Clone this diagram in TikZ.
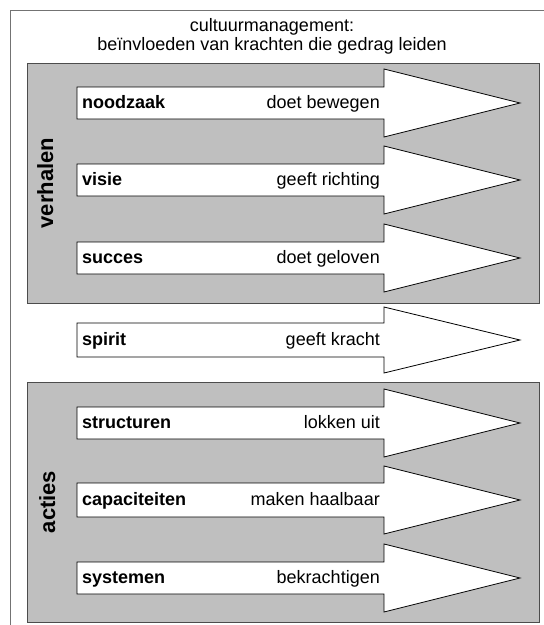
\documentclass[tikz,border=0pt]{standalone}
\usepackage{fontspec}
\setmainfont{Liberation Sans}

\tikzset{
  blok/.style={draw=black!70, fill=black!25, line width=0.9pt},
  pijl/.style={draw=black, fill=white, line width=0.8pt},
  kop/.style={font=\fontsize{18}{19}\selectfont\bfseries, anchor=base west, inner sep=0pt},
  werk/.style={font=\fontsize{18}{19}\selectfont, anchor=base east, inner sep=0pt},
  zij/.style={font=\fontsize{22}{24}\selectfont\bfseries, rotate=90, anchor=base, inner sep=0pt},
  titel/.style={font=\fontsize{18}{19}\selectfont, anchor=base, inner sep=0pt},
}

\begin{document}
\begin{tikzpicture}[x=1pt,y=-1pt]

\useasboundingbox (0,0) rectangle (544,625);
\draw[black!55, line width=1pt] (10,625) -- (10,10) -- (544,10);

\node[titel] (t1) at (272,31) {cultuurmanagement:};
\node[titel] (t2) at (272,50) {beïnvloeden van krachten die gedrag leiden};

% verhalen
\draw[blok] (27,63) rectangle (539,303);
\node[zij] (verhalen) at (53,183) {verhalen};

\begin{scope}[shift={(0,103)}]
\draw[pijl] (77,-16) -- (384,-16) -- (384,-34) -- (520,0) -- (384,34) -- (384,16) -- (77,16) -- cycle;
\node[kop] (noodzaak) at (82,5.5) {noodzaak};
\node[werk] (bewegen) at (380,5.5) {doet bewegen};
\end{scope}

\begin{scope}[shift={(0,180)}]
\draw[pijl] (77,-16) -- (384,-16) -- (384,-34) -- (520,0) -- (384,34) -- (384,16) -- (77,16) -- cycle;
\node[kop] (visie) at (82,5.5) {visie};
\node[werk] (richting) at (380,5.5) {geeft richting};
\end{scope}

\begin{scope}[shift={(0,258)}]
\draw[pijl] (77,-16) -- (384,-16) -- (384,-34) -- (520,0) -- (384,34) -- (384,16) -- (77,16) -- cycle;
\node[kop] (succes) at (82,5.5) {succes};
\node[werk] (geloven) at (380,5.5) {doet geloven};
\end{scope}

% spirit, los tussen de blokken
\begin{scope}[shift={(0,340)}]
\draw[pijl] (77,-17) -- (384,-17) -- (384,-33) -- (520,0) -- (384,33) -- (384,17) -- (77,17) -- cycle;
\node[kop] (spirit) at (82,5.5) {spirit};
\node[werk] (kracht) at (380,5.5) {geeft kracht};
\end{scope}

% acties
\draw[blok] (27,382) rectangle (539,622);
\node[zij] (acties) at (55,502) {acties};

\begin{scope}[shift={(0,423)}]
\draw[pijl] (77,-16) -- (384,-16) -- (384,-34) -- (520,0) -- (384,34) -- (384,16) -- (77,16) -- cycle;
\node[kop] (structuren) at (82,5.5) {structuren};
\node[werk] (uit) at (380,5.5) {lokken uit};
\end{scope}

\begin{scope}[shift={(0,500)}]
\draw[pijl] (77,-17) -- (384,-17) -- (384,-34) -- (520,0) -- (384,34) -- (384,17) -- (77,17) -- cycle;
\node[kop] (capaciteiten) at (82,5.5) {capaciteiten};
\node[werk] (haalbaar) at (380,5.5) {maken haalbaar};
\end{scope}

\begin{scope}[shift={(0,578)}]
\draw[pijl] (77,-16) -- (384,-16) -- (384,-34) -- (520,0) -- (384,34) -- (384,16) -- (77,16) -- cycle;
\node[kop] (systemen) at (82,5.5) {systemen};
\node[werk] (bekrachtigen) at (380,5.5) {bekrachtigen};
\end{scope}

\end{tikzpicture}
\end{document}
